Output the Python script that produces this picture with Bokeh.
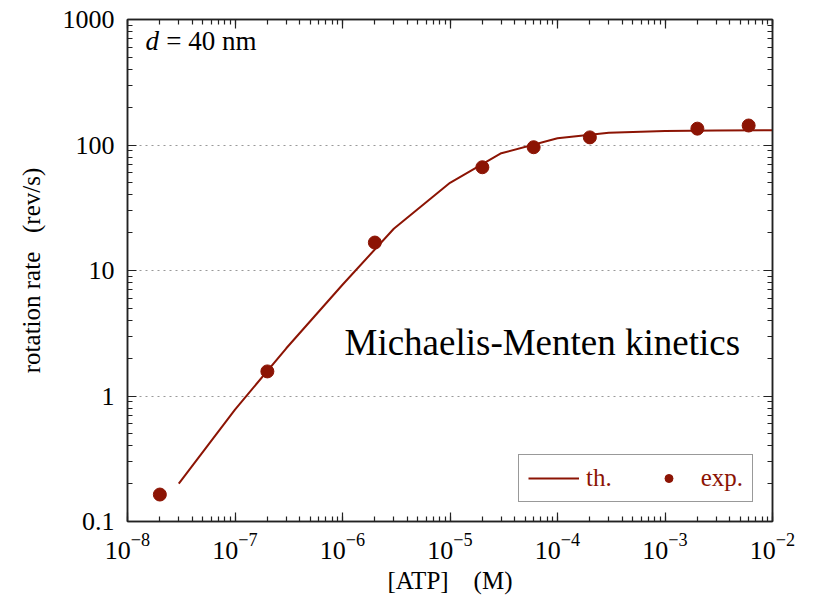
from bokeh.plotting import figure
from bokeh.models import (LogAxis, LogTicker, FixedTicker, CustomJSTickFormatter,
                          Legend, LegendItem, Label)
from bokeh.embed import file_html
from bokeh.resources import INLINE

# data
th_atp = [3e-8, 1e-7, 3e-7, 1e-6, 3e-6, 1e-5, 3e-5, 1e-4, 3e-4, 1e-3, 3e-3, 1e-2]
th_rate = [0.2, 0.78, 2.4, 7.7, 21.5, 50, 86, 113, 125, 129, 130.5, 131]
exp_atp = [2e-8, 2e-7, 2e-6, 2e-5, 6e-5, 2e-4, 2e-3, 6e-3]
exp_rate = [0.164, 1.57, 16.7, 66.5, 96, 115, 135, 143]
y_ticks = [0.1, 1, 10, 100, 1000]

RED = "#8c1404"
FONT = "Liberation Serif"
NB = "\u00a0"

p = figure(width=808, height=592, x_axis_type="log", y_axis_type="log",
           x_range=(1e-8, 1e-2), y_range=(0.1, 1000),
           output_backend="svg", toolbar_location=None,
           frame_width=645, frame_height=502,
           min_border_left=127, min_border_top=19, min_border_right=36,
           min_border_bottom=71)
p.outline_line_color = "#222222"
p.outline_line_width = 1.5
p.background_fill_color = "white"
p.border_fill_color = "white"

p.xgrid.visible = False
p.ygrid.grid_line_color = "#999999"
p.ygrid.grid_line_dash = "dotted"
p.ygrid.grid_line_width = 1
p.ygrid.ticker = FixedTicker(ticks=y_ticks)

def style_axis(ax, labels=True):
    ax.major_tick_in = 9
    ax.major_tick_out = 0
    ax.minor_tick_in = 5
    ax.minor_tick_out = 0
    ax.axis_line_color = "#222222"
    ax.axis_line_width = 1.5
    ax.major_tick_line_color = "#222222"
    ax.minor_tick_line_color = "#222222"
    ax.major_tick_line_width = 1.2
    ax.minor_tick_line_width = 1.2
    ax.major_label_text_font = FONT
    ax.major_label_text_font_size = "26px"
    ax.major_label_text_color = "black"
    ax.axis_label_text_font = FONT
    ax.axis_label_text_font_size = "25px"
    ax.axis_label_text_font_style = "normal"
    ax.axis_label_text_color = "black"
    if not labels:
        ax.major_label_text_font_size = "0px"
        ax.major_label_text_alpha = 0

yfmt = CustomJSTickFormatter(code="return String(Number(tick.toPrecision(3)));")

xa = p.xaxis[0]
style_axis(xa)
xa.ticker = LogTicker(num_minor_ticks=10)
xa.axis_label = "[ATP]" + NB * 4 + "(M)"
xa.major_label_standoff = 12
xa.axis_label_standoff = 5

ya = p.yaxis[0]
style_axis(ya)
ya.ticker = LogTicker(num_minor_ticks=10)
ya.formatter = yfmt
ya.axis_label = "rotation rate" + NB * 3 + "(rev/s)"
ya.major_label_standoff = 13
ya.axis_label_standoff = 15

top = LogAxis(ticker=LogTicker(num_minor_ticks=10))
style_axis(top, labels=False)
p.add_layout(top, "above")
right = LogAxis(ticker=LogTicker(num_minor_ticks=10))
style_axis(right, labels=False)
p.add_layout(right, "right")

th = p.line(th_atp, th_rate, line_color=RED, line_width=2)
ex = p.scatter(exp_atp, exp_rate, size=13, fill_color=RED, line_color=RED)

legend = Legend(items=[LegendItem(label="th.", renderers=[th]),
                       LegendItem(label="exp.", renderers=[ex])],
                orientation="horizontal", location=(391, 19))
legend.label_text_font = FONT
legend.label_text_font_size = "25px"
legend.label_text_color = RED
legend.border_line_color = "#333333"
legend.border_line_width = 1.2
legend.glyph_width = 51
legend.glyph_height = 20
legend.spacing = 31
legend.padding = 9
legend.margin = 0
legend.label_standoff = 7
p.add_layout(legend, "center")

d_it = Label(x=18, y=466, x_units="screen", y_units="screen",
             text="d", text_font=FONT, text_font_size="27px",
             text_font_style="italic", text_color="black")
p.add_layout(d_it)
d_rest = Label(x=32, y=466, x_units="screen", y_units="screen",
               text=NB + "=" + NB + "40" + NB + "nm", text_font=FONT,
               text_font_size="27px", text_color="black")
p.add_layout(d_rest)
mm = Label(x=217, y=159, x_units="screen", y_units="screen",
           text="Michaelis-Menten kinetics", text_font=FONT,
           text_font_size="37px", text_color="black")
p.add_layout(mm)

open("out.html", "w").write(file_html(p, INLINE))
